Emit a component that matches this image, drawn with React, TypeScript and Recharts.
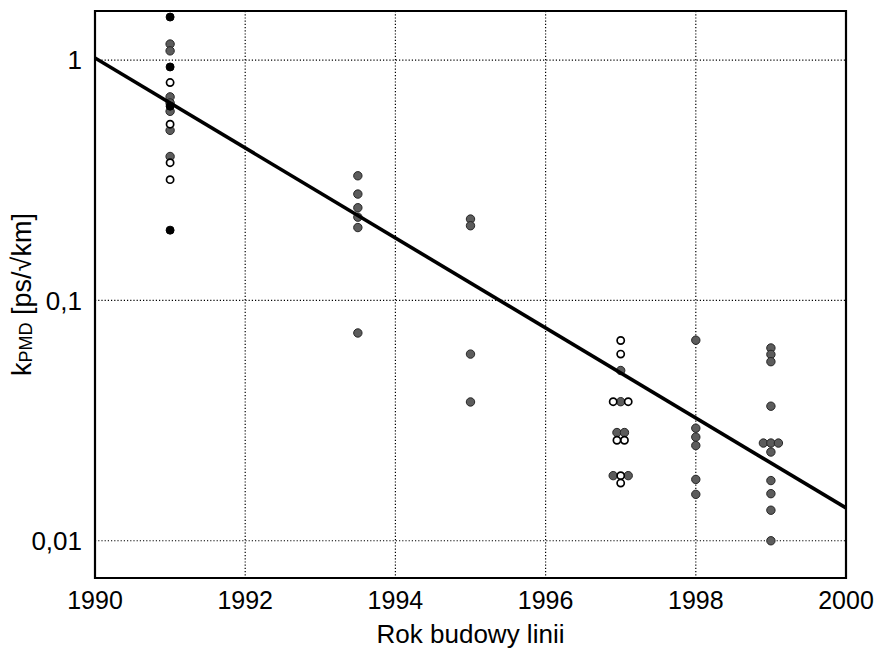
import React from 'react';
import {
  ScatterChart,
  Scatter,
  XAxis,
  YAxis,
  CartesianGrid,
  ReferenceArea,
  Label,
} from 'recharts';

// PMD coefficient measurements by installation year
const grayPoints = [
  { year: 1991, k: 1.166 },
  { year: 1991, k: 1.092 },
  { year: 1991, k: 0.703 },
  { year: 1991, k: 0.663 },
  { year: 1991, k: 0.612 },
  { year: 1991, k: 0.51 },
  { year: 1991, k: 0.397 },
  { year: 1993.5, k: 0.33 },
  { year: 1993.5, k: 0.277 },
  { year: 1993.5, k: 0.243 },
  { year: 1993.5, k: 0.222 },
  { year: 1993.5, k: 0.201 },
  { year: 1993.5, k: 0.0732 },
  { year: 1995, k: 0.218 },
  { year: 1995, k: 0.2045 },
  { year: 1995, k: 0.0598 },
  { year: 1995, k: 0.0378 },
  { year: 1997, k: 0.0511 },
  { year: 1997, k: 0.0379 },
  { year: 1996.95, k: 0.0282 },
  { year: 1997.05, k: 0.0282 },
  { year: 1996.9, k: 0.01866 },
  { year: 1997.1, k: 0.01866 },
  { year: 1998, k: 0.0683 },
  { year: 1998, k: 0.0294 },
  { year: 1998, k: 0.027 },
  { year: 1998, k: 0.0249 },
  { year: 1998, k: 0.018 },
  { year: 1998, k: 0.0156 },
  { year: 1999, k: 0.0634 },
  { year: 1999, k: 0.0596 },
  { year: 1999, k: 0.0556 },
  { year: 1999, k: 0.0363 },
  { year: 1998.9, k: 0.0255 },
  { year: 1999, k: 0.0255 },
  { year: 1999.1, k: 0.0255 },
  { year: 1999, k: 0.0234 },
  { year: 1999, k: 0.0178 },
  { year: 1999, k: 0.0157 },
  { year: 1999, k: 0.0134 },
  { year: 1999, k: 0.01 },
];

const blackPoints = [
  { year: 1991, k: 1.51 },
  { year: 1991, k: 0.936 },
  { year: 1991, k: 0.643 },
  { year: 1991, k: 0.196 },
];

const openPoints = [
  { year: 1991, k: 0.806 },
  { year: 1991, k: 0.541 },
  { year: 1991, k: 0.374 },
  { year: 1991, k: 0.318 },
  { year: 1997, k: 0.0681 },
  { year: 1997, k: 0.0598 },
  { year: 1996.9, k: 0.0379 },
  { year: 1997.1, k: 0.0379 },
  { year: 1996.95, k: 0.0262 },
  { year: 1997.05, k: 0.0262 },
  { year: 1997, k: 0.01866 },
  { year: 1997, k: 0.01738 },
];

// exponential fit, straight on the log axis
const trendLine = [
  { year: 1990, k: 1.02 },
  { year: 2000, k: 0.0137 },
];

const xTicks = [1990, 1992, 1994, 1996, 1998, 2000];
const yTicks = [0.01, 0.1, 1];

const FONT = '"Liberation Sans", Arial, Helvetica, sans-serif';

const GrayDot = (props: any) => (
  <circle cx={props.cx} cy={props.cy} r={4.2} fill="#5c5c5c" stroke="#262626" strokeWidth={1} />
);
const BlackDot = (props: any) => (
  <circle cx={props.cx} cy={props.cy} r={4} fill="#000" stroke="#000" strokeWidth={1} />
);
const OpenDot = (props: any) => (
  <circle cx={props.cx} cy={props.cy} r={3.6} fill="#fff" stroke="#000" strokeWidth={1.7} />
);
const NoDot = () => <g />;

const fmtY = (v: number) => String(v).replace('.', ',');

const XLabel = (props: any) => {
  const vb = props.viewBox || {};
  return (
    <text
      x={vb.x + vb.width / 2}
      y={vb.y + 65}
      textAnchor="middle"
      fontFamily={FONT}
      fontSize={26}
      fill="#000"
    >
      Rok budowy linii
    </text>
  );
};

const YLabel = (props: any) => {
  const vb = props.viewBox || {};
  const cx = vb.x + 22;
  const cy = vb.y + vb.height / 2;
  return (
    <text
      x={cx}
      y={cy}
      transform={`rotate(-90, ${cx}, ${cy})`}
      textAnchor="middle"
      dominantBaseline="central"
      fontFamily={FONT}
      fontSize={27}
      fill="#000"
    >
      k
      <tspan fontSize={18} dy={4}>PMD</tspan>
      <tspan dy={-4}> [ps/√km]</tspan>
    </text>
  );
};

export default function App() {
  return (
    <div style={{ position: 'absolute', left: 0, top: 0 }}>
      <ScatterChart
        width={877}
        height={650}
        margin={{ top: 11, right: 31, bottom: 0, left: 0 }}
      >
        <CartesianGrid stroke="#000" strokeDasharray="1.2 2" strokeWidth={1.2} />
        <XAxis
          type="number"
          dataKey="year"
          domain={[1990, 2000]}
          ticks={xTicks}
          allowDataOverflow
          height={72}
          tickLine={false}
          axisLine={false}
          tickSize={6}
          tickMargin={7}
          tick={{ fill: '#000', fontSize: 25, fontFamily: FONT }}
        >
          <Label content={XLabel} />
        </XAxis>
        <YAxis
          type="number"
          dataKey="k"
          scale="log"
          domain={[0.007, 1.6]}
          ticks={yTicks}
          allowDataOverflow
          width={95}
          tickLine={false}
          axisLine={false}
          tickSize={6}
          tickMargin={7}
          tickFormatter={fmtY}
          tick={{ fill: '#000', fontSize: 26, fontFamily: FONT }}
        >
          <Label content={YLabel} />
        </YAxis>
        <Scatter data={grayPoints} shape={GrayDot} isAnimationActive={false} />
        <Scatter data={blackPoints} shape={BlackDot} isAnimationActive={false} />
        <Scatter data={openPoints} shape={OpenDot} isAnimationActive={false} />
        <Scatter
          data={trendLine}
          shape={NoDot}
          line={{ stroke: '#000', strokeWidth: 3.6 }}
          isAnimationActive={false}
        />
        <ReferenceArea
          x1={1990}
          x2={2000}
          y1={0.007}
          y2={1.6}
          fill="none"
          fillOpacity={0}
          stroke="#000"
          strokeWidth={2.2}
          ifOverflow="visible"
        />
      </ScatterChart>
    </div>
  );
}
